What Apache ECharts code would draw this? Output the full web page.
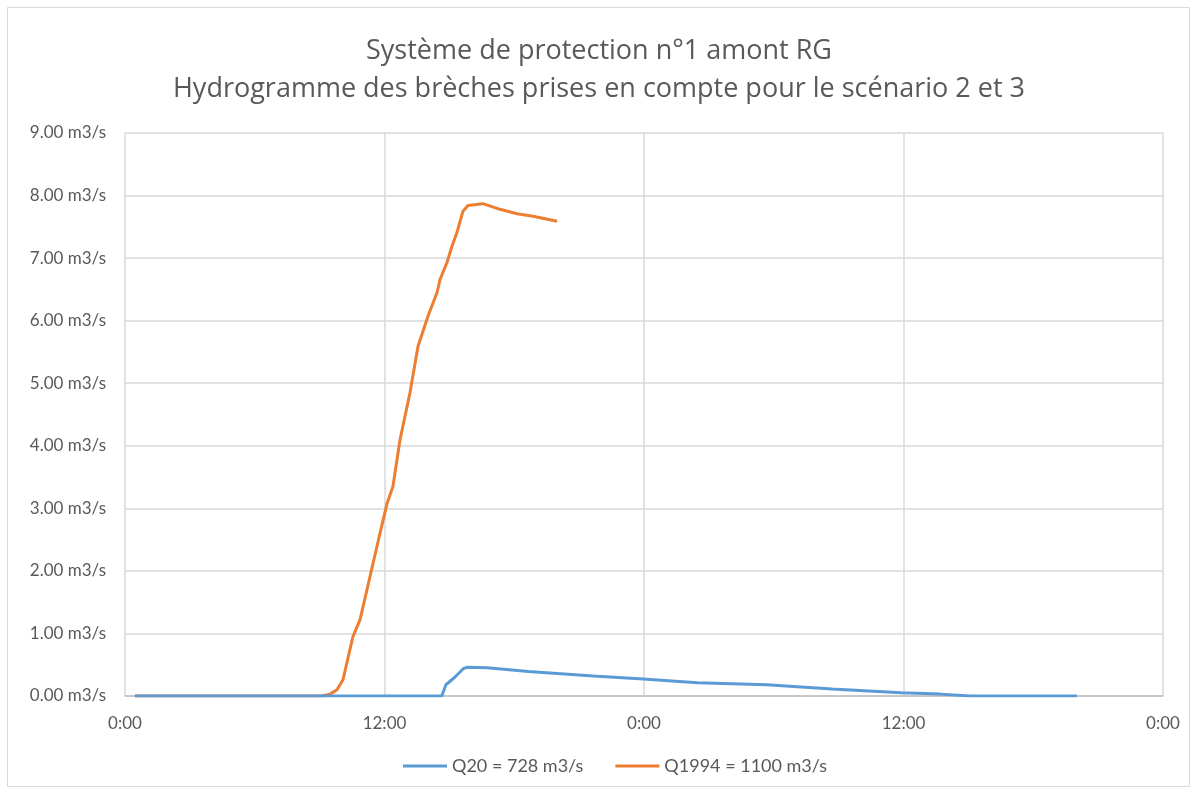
<!DOCTYPE html>
<html>
<head>
<meta charset="utf-8">
<script src="https://cdn.jsdelivr.net/npm/echarts@6/dist/echarts.min.js"></script>
<style>
  html, body { margin: 0; padding: 0; background: #fff; }
  #chart { width: 1198px; height: 794px; }
</style>
</head>
<body>
<div id="chart"></div>
<script>
// heures depuis 0:00 du premier jour, débit en m3/s
const q20Hours = [0.46, 14.65, 14.84, 15.25, 15.65, 15.85, 16.75, 18.65, 21.66, 23.97, 26.47, 29.68, 32.69, 35.9, 37.71, 39.11, 44.02];
const q20Values = [0, 0, 0.18, 0.30, 0.44, 0.46, 0.45, 0.39, 0.32, 0.27, 0.21, 0.18, 0.11, 0.05, 0.03, 0, 0];

const q1994Hours = [0.46, 9.11, 9.48, 9.80, 10.08, 10.54, 10.87, 11.33, 11.79, 12.12, 12.39, 12.72, 13.18, 13.55, 14.01, 14.43, 14.57, 14.89, 15.12, 15.35, 15.63, 15.86, 16.55, 17.34, 18.13, 18.87, 19.98];
const q1994Values = [0, 0, 0.03, 0.10, 0.26, 0.95, 1.22, 1.91, 2.60, 3.08, 3.35, 4.10, 4.85, 5.59, 6.07, 6.45, 6.66, 6.93, 7.19, 7.41, 7.75, 7.84, 7.87, 7.78, 7.71, 7.67, 7.59];

const xTickLabels = ['0:00', '12:00', '0:00', '12:00', '0:00'];
const seriesNames = ['Q20 = 728 m3/s', 'Q1994 = 1100 m3/s'];

function pairs(xs, ys) {
  return xs.map((x, i) => [x, ys[i]]);
}

const chart = echarts.init(document.getElementById('chart'));
chart.setOption({
  animation: false,
  backgroundColor: '#fff',
  title: {
    text: 'Système de protection n°1 amont RG\nHydrogramme des brèches prises en compte pour le scénario 2 et 3',
    left: 'center',
    top: 27,
    textStyle: {
      fontFamily: 'Open Sans',
      fontSize: 27,
      fontWeight: 'normal',
      color: '#595959',
      lineHeight: 38
    }
  },
  graphic: [{
    type: 'rect',
    shape: { x: 7.5, y: 7.5, width: 1182, height: 779 },
    style: { fill: 'none', stroke: '#d9d9d9', lineWidth: 1 }
  }],
  legend: {
    bottom: 14,
    left: 398,
    itemWidth: 44,
    itemHeight: 3,
    itemGap: 32,
    icon: 'rect',
    textStyle: { fontFamily: 'Lato', fontSize: 18, color: '#595959' },
    data: seriesNames
  },
  grid: { left: 125, right: 35, top: 133, bottom: 98 },
  xAxis: {
    type: 'value',
    min: 0,
    max: 48,
    interval: 12,
    axisLine: { lineStyle: { color: '#bfbfbf', width: 1.5 } },
    axisTick: { show: false },
    splitLine: { show: true, lineStyle: { color: '#d9d9d9', width: 1.5 } },
    axisLabel: {
      margin: 19,
      fontFamily: 'Lato',
      fontSize: 17,
      color: '#595959',
      formatter: v => xTickLabels[Math.round(v / 12)]
    }
  },
  yAxis: {
    type: 'value',
    min: 0,
    max: 9,
    interval: 1,
    axisLine: { show: false },
    axisTick: { show: false },
    splitLine: { lineStyle: { color: '#d9d9d9', width: 1.5 } },
    axisLabel: {
      margin: 19,
      fontFamily: 'Lato',
      fontSize: 17,
      color: '#595959',
      formatter: v => v.toFixed(2) + ' m3/s'
    }
  },
  series: [
    {
      name: seriesNames[0],
      type: 'line',
      data: pairs(q20Hours, q20Values),
      showSymbol: false,
      lineStyle: { color: '#5b9bd5', width: 3 },
      itemStyle: { color: '#5b9bd5' },
      z: 3
    },
    {
      name: seriesNames[1],
      type: 'line',
      data: pairs(q1994Hours, q1994Values),
      showSymbol: false,
      lineStyle: { color: '#ed7d31', width: 3 },
      itemStyle: { color: '#ed7d31' },
      z: 2
    }
  ]
});
</script>
</body>
</html>
